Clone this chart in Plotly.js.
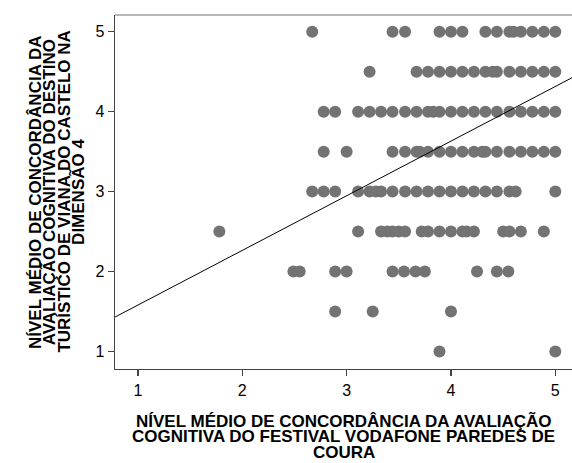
<!DOCTYPE html>
<html>
<head>
<meta charset="utf-8">
<script src="https://cdn.plot.ly/plotly-3.0.1.min.js"></script>
<style>html,body{margin:0;padding:0;background:#fff;}#chart{width:572px;height:463px;}</style>
</head>
<body>
<div id="chart"></div>
<script>
// Points grouped by y level (NÍVEL MÉDIO ... DIMENSÃO 4)
const row5   = [2.67, 3.44, 3.56, 3.89, 4.0, 4.11, 4.33, 4.44, 4.56, 4.6, 4.67, 4.78, 4.89, 5.0];
const row45  = [3.22, 3.67, 3.78, 3.89, 4.0, 4.11, 4.22, 4.33, 4.4, 4.44, 4.56, 4.67, 4.78, 4.89, 5.0];
const row4   = [2.78, 2.89, 3.11, 3.22, 3.33, 3.44, 3.56, 3.67, 3.78, 3.83, 3.89, 4.0, 4.11, 4.22, 4.33, 4.44, 4.56, 4.67, 4.78, 4.89, 5.0];
const row35  = [2.78, 3.0, 3.44, 3.56, 3.67, 3.7, 3.78, 3.89, 4.0, 4.11, 4.22, 4.3, 4.33, 4.44, 4.56, 4.67, 4.78, 4.89, 5.0];
const row3   = [2.67, 2.78, 2.89, 3.11, 3.22, 3.28, 3.33, 3.44, 3.56, 3.67, 3.78, 3.89, 4.0, 4.11, 4.22, 4.33, 4.44, 4.56, 4.62, 5.0];
const row25  = [1.78, 3.11, 3.33, 3.39, 3.44, 3.5, 3.56, 3.72, 3.78, 3.89, 4.0, 4.11, 4.15, 4.22, 4.5, 4.56, 4.67, 4.89];
const row2   = [2.49, 2.55, 2.89, 3.0, 3.44, 3.55, 3.66, 3.75, 4.25, 4.44, 4.55];
const row15  = [2.89, 3.25, 4.0];
const row1   = [3.89, 5.0];
const rowLevels = [5, 4.5, 4, 3.5, 3, 2.5, 2, 1.5, 1];
const rows = [row5, row45, row4, row35, row3, row25, row2, row15, row1];

// Fit line endpoints
const fitX = [0.78, 5.16];
const fitY = [1.43, 4.425];

const tickVals = [1, 2, 3, 4, 5];
const tickText = ['1', '2', '3', '4', '5'];

const xTitleLines = [
  'NÍVEL MÉDIO DE CONCORDÂNCIA DA AVALIAÇÃO',
  'COGNITIVA DO FESTIVAL VODAFONE PAREDES DE',
  'COURA'
];
const yTitleLines = [
  'NÍVEL MÉDIO DE CONCORDÂNCIA DA',
  'AVALIAÇÃO COGNITIVA DO DESTINO',
  'TURÍSTICO DE VIANA DO CASTELO NA',
  'DIMENSÃO 4'
];

const px = [], py = [];
rows.forEach((r, i) => r.forEach(v => { px.push(v); py.push(rowLevels[i]); }));

const traces = [
  {x: px, y: py, type: 'scatter', mode: 'markers',
   marker: {color: '#737373', size: 12, line: {width: 0}}, hoverinfo: 'x+y'},
  {x: fitX, y: fitY, type: 'scatter', mode: 'lines',
   line: {color: '#000000', width: 1}, hoverinfo: 'skip'}
];

const titleFont = {family: 'Liberation Sans, Arial, sans-serif', size: 17, color: '#000'};
const annotations = [];
xTitleLines.forEach((t, i) => annotations.push({
  text: '<b>' + t + '</b>', xref: 'paper', yref: 'paper', x: 0.5, y: 0,
  xanchor: 'center', yanchor: 'middle', yshift: -52 - i * 15.5, showarrow: false, font: titleFont
}));
yTitleLines.forEach((t, i) => annotations.push({
  text: '<b>' + t + '</b>', xref: 'paper', yref: 'paper', x: 0, y: 0.5,
  xanchor: 'center', yanchor: 'middle', xshift: -80 + i * 14.3, textangle: -90, showarrow: false, font: titleFont
}));

const axisCommon = {
  showgrid: false, zeroline: false, showline: true, linecolor: '#444', linewidth: 1.3,
  ticks: 'outside', ticklen: 6, tickcolor: '#444', tickwidth: 1.3,
  tickvals: tickVals, ticktext: tickText,
  tickfont: {family: 'Liberation Sans, Arial, sans-serif', size: 16, color: '#000'}
};

const layout = {
  width: 572, height: 463,
  margin: {l: 115, r: 0, t: 15, b: 94},
  paper_bgcolor: '#fff', plot_bgcolor: '#fff',
  showlegend: false,
  xaxis: Object.assign({}, axisCommon, {range: [0.78, 5.16]}),
  yaxis: Object.assign({}, axisCommon, {range: [0.78, 5.21]}),
  annotations: annotations,
  shapes: [{type: 'line', xref: 'paper', yref: 'paper', x0: 0, x1: 1, y0: 1, y1: 1,
            line: {color: '#a0a0a0', width: 1.3}}]
};

Plotly.newPlot('chart', traces, layout, {displayModeBar: false, staticPlot: true});
</script>
</body>
</html>
